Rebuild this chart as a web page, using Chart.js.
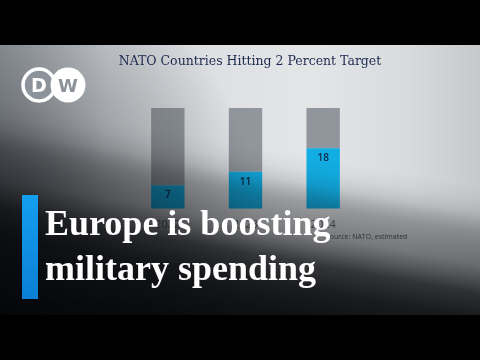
<!DOCTYPE html>
<html>
<head>
<meta charset="utf-8">
<script src="https://cdn.jsdelivr.net/npm/chart.js@4"></script>
<style>
  html, body { margin: 0; padding: 0; background: #000; }
  #wrap { position: relative; width: 480px; height: 360px; overflow: hidden; background: #000; }
  #bg {
    position: absolute; left: 0; top: 45px; width: 480px; height: 270px;
    background: linear-gradient(90deg, #9ca2a9 0%, #b4b9be 10%, #ced2d6 22%, #dee0e3 45%, #e3e5e7 65%, #d8dbde 85%, #c6c9cc 100%);
  }
  #chart { position: absolute; left: 0; top: 0; }
  #title {
    position: absolute; left: 0; top: 53px; width: 500px; text-align: center;
    font: 12.5px "DejaVu Serif", serif; line-height: 16px; color: #1b2a4e; white-space: nowrap;
  }
  #source {
    position: absolute; left: 326px; top: 232px; font: 7px "Open Sans", sans-serif; color: #2c3036;
  }
  #stripe { position: absolute; left: 22px; top: 195px; width: 16px; height: 104px;
    background: linear-gradient(to bottom, #149ff0, #0b7fd6); }
  #headline {
    position: absolute; left: 45px; top: 201px; color: #fff;
    font: bold 36px "Liberation Serif", serif; line-height: 45px; white-space: nowrap;
  }
  #logo { position: absolute; left: 21px; top: 66px; }
</style>
</head>
<body>
<div id="wrap">
  <div id="bg"></div>
  <canvas id="chart" width="480" height="360"></canvas>
  <div id="title">NATO Countries Hitting 2 Percent Target</div>
  <div id="source">Source: NATO, estimated</div>
  <svg id="logo" width="68" height="38" viewBox="0 0 68 38">
    <circle cx="18" cy="19" r="16" fill="#8d939a" stroke="#fff" stroke-width="3.5"/>
    <text x="18" y="26" text-anchor="middle" font-family="DejaVu Sans" font-weight="bold" font-size="19" fill="#fff">D</text>
    <circle cx="47" cy="19" r="17.5" fill="#fff"/>
    <text x="47" y="26" text-anchor="middle" font-family="DejaVu Sans" font-weight="bold" font-size="18" fill="#8d939a">W</text>
  </svg>
  <div id="stripe"></div>
  <div id="headline">Europe is boosting<br>military spending</div>
</div>
<script>
const years = ["2022", "2023", "2024"]
const hitting = [7, 11, 18]
const totalScale = 30
const rest = hitting.map((v) => totalScale - v)

// numbers inside the blue segments
const valueLabels = {
  id: "valueLabels",
  afterDatasetsDraw(chart) {
    const ctx = chart.ctx
    const meta = chart.getDatasetMeta(0)
    ctx.save()
    ctx.fillStyle = "#10264a"
    ctx.font = "600 10px 'Open Sans', sans-serif"
    ctx.textAlign = "center"
    ctx.textBaseline = "middle"
    meta.data.forEach((bar, i) => {
      ctx.fillText(String(hitting[i]), bar.x, bar.y + 10)
    })
    ctx.restore()
  },
}

// dark fade over the photo and bars (x axis is drawn after it)
const shade = {
  id: "shade",
  afterDatasetsDraw(chart) {
    const ctx = chart.ctx
    const c = (a) => `rgba(5,6,9,${a})`
    const g = ctx.createLinearGradient(209.7, 351.9, 270.3, 8.1)
    g.addColorStop(0, c(1))
    g.addColorStop(0.15, c(0.95))
    g.addColorStop(0.227, c(0.9))
    g.addColorStop(0.298, c(0.79))
    g.addColorStop(0.34, c(0.62))
    g.addColorStop(0.382, c(0.47))
    g.addColorStop(0.43, c(0.4))
    g.addColorStop(0.469, c(0.33))
    g.addColorStop(0.5, c(0.22))
    g.addColorStop(0.523, c(0.12))
    g.addColorStop(0.56, c(0.04))
    g.addColorStop(0.6, c(0))
    g.addColorStop(1, c(0))
    const v = ctx.createRadialGradient(0, 220, 0, 0, 220, 260)
    v.addColorStop(0, c(0.5))
    v.addColorStop(1, c(0))
    ctx.save()
    ctx.fillStyle = g
    ctx.fillRect(0, 45, 480, 270)
    ctx.fillStyle = v
    ctx.fillRect(0, 45, 480, 270)
    ctx.restore()
  },
}

new Chart(document.getElementById("chart"), {
  type: "bar",
  data: {
    labels: years,
    datasets: [
      { label: "Hitting target", data: hitting, backgroundColor: "#12ade3" },
      { label: "Other members", data: rest, backgroundColor: "#91969c" },
    ],
  },
  options: {
    responsive: false,
    devicePixelRatio: 1,
    animation: false,
    layout: { padding: { left: 129, right: 118, top: 108, bottom: 128 } },
    datasets: { bar: { categoryPercentage: 1, barPercentage: 0.43 } },
    plugins: {
      legend: { display: false },
      tooltip: { enabled: false },
    },
    scales: {
      x: {
        stacked: true,
        z: 1,
        grid: { display: false },
        border: { display: false },
        ticks: { color: "#62676d", font: { family: "'Open Sans', sans-serif", size: 11 }, padding: 1 },
      },
      y: { stacked: true, display: false, min: 0, max: totalScale },
    },
  },
  plugins: [valueLabels, shade],
})
</script>
</body>
</html>
